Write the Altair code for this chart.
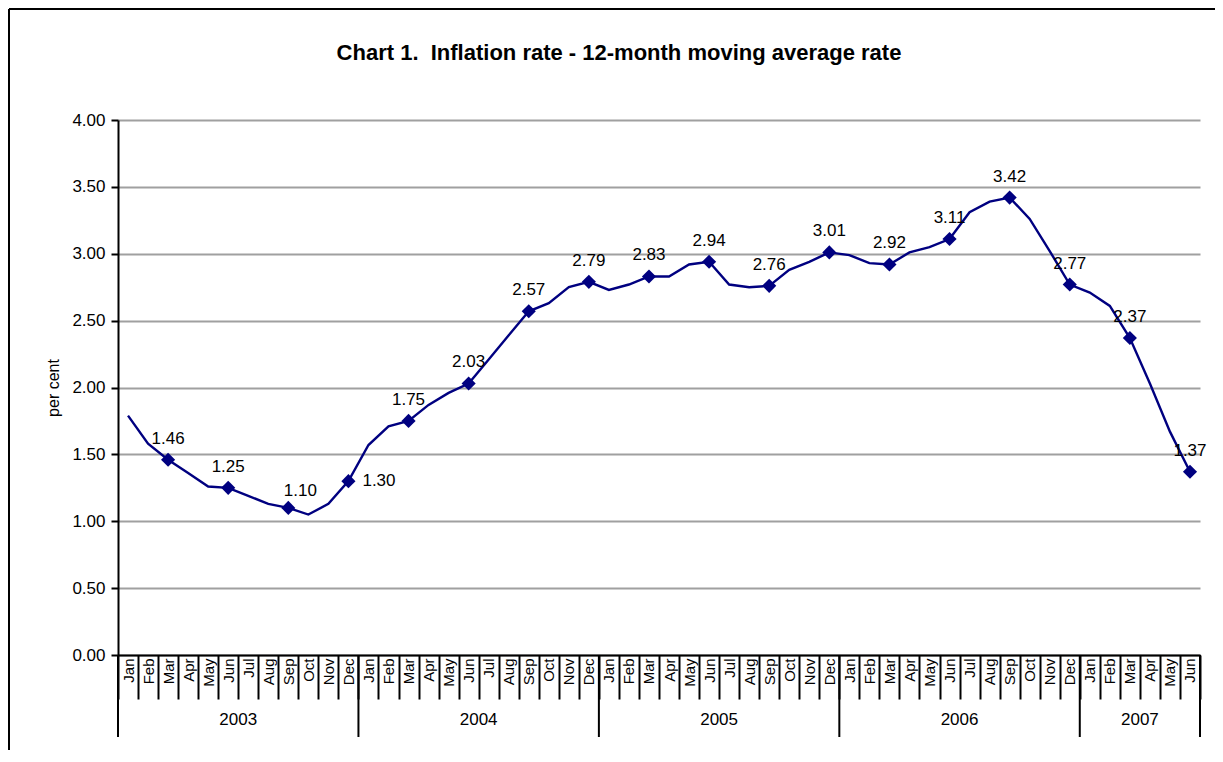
import altair as alt
import pandas as pd

months = ["Jan", "Feb", "Mar", "Apr", "May", "Jun", "Jul", "Aug", "Sep", "Oct", "Nov", "Dec"]
years = [2003, 2004, 2005, 2006, 2007]
months_per_year = [12, 12, 12, 12, 6]

rate_2003 = [1.79, 1.58, 1.46, 1.36, 1.26, 1.25, 1.19, 1.13, 1.10, 1.05, 1.13, 1.30]
rate_2004 = [1.57, 1.71, 1.75, 1.87, 1.96, 2.03, 2.21, 2.39, 2.57, 2.63, 2.75, 2.79]
rate_2005 = [2.73, 2.77, 2.83, 2.83, 2.92, 2.94, 2.77, 2.75, 2.76, 2.88, 2.94, 3.01]
rate_2006 = [2.99, 2.93, 2.92, 3.01, 3.05, 3.11, 3.31, 3.39, 3.42, 3.26, 3.02, 2.77]
rate_2007 = [2.71, 2.61, 2.37, 2.03, 1.67, 1.37]

marked_months = ["Mar", "Jun", "Sep", "Dec"]
right_label_keys = ["2003-Dec"]
shifted_label_keys = ["2003-Sep"]
y_ticks = [0, 0.5, 1.0, 1.5, 2.0, 2.5, 3.0, 3.5, 4.0]

title_text = "Chart 1.\u00a0 Inflation rate - 12-month moving average rate"
y_title = "per cent"

# ---- build tables ----
rows = []
for yr, n, vals in zip(years, months_per_year, [rate_2003, rate_2004, rate_2005, rate_2006, rate_2007]):
    for i in range(n):
        rows.append({"key": f"{yr}-{months[i]}", "year": str(yr), "month": months[i], "value": vals[i]})
df = pd.DataFrame(rows)
keys = list(df["key"])

year_rows = []
sep_rows = []
for yr, n in zip(years, months_per_year):
    year_rows.append({"key": f"{yr}-{months[n // 2]}", "year": str(yr)})
    sep_rows.append({"key": f"{yr}-Jan"})
sep_end = pd.DataFrame([{"key": keys[-1]}])
years_df = pd.DataFrame(year_rows)
seps_df = pd.DataFrame(sep_rows)

FONT = "Liberation Sans"
W, H = 1082, 535
NAVY = "#000080"

xscale = alt.Scale(domain=keys, type="band", paddingInner=0, paddingOuter=0)
yscale = alt.Scale(domain=[0, 4], nice=False)

base = alt.Chart(df)

line = base.mark_line(color=NAVY, strokeWidth=2.4).encode(
    x=alt.X(
        "key:N",
        scale=xscale,
        bandPosition=0.5,
        title=None,
        axis=alt.Axis(
            labelExpr="split(datum.value, '-')[1]",
            labelAngle=-90,
            labelAlign="right",
            labelBaseline="middle",
            labelFontSize=15,
            labelColor="black",
            labelFont=FONT,
            tickBand="extent",
            tickSize=44,
            tickWidth=2,
            tickColor="black",
            labelPadding=-41,
            domainColor="black",
            domainWidth=2,
            grid=False,
            labelOverlap=False,
        ),
    ),
    y=alt.Y(
        "value:Q",
        scale=yscale,
        axis=alt.Axis(
            values=y_ticks,
            format=".2f",
            title=y_title,
            titleFontSize=16,
            titleFontWeight="normal",
            titleFont=FONT,
            titleColor="black",
            titlePadding=10,
            labelFontSize=17,
            labelFont=FONT,
            labelColor="black",
            labelPadding=6,
            tickSize=7,
            tickWidth=2,
            tickColor="black",
            domainColor="black",
            domainWidth=2,
            grid=True,
            gridColor="#a0a0a0",
            gridWidth=2,
        ),
    ),
)

marked = base.transform_filter(
    alt.FieldOneOfPredicate(field="month", oneOf=marked_months)
)

points = marked.mark_point(
    shape="diamond", filled=True, color=NAVY, size=200, opacity=1
).encode(
    x=alt.X("key:N", scale=xscale, bandPosition=0.5),
    y=alt.Y("value:Q", scale=yscale),
)

text_enc = dict(
    x=alt.X("key:N", scale=xscale, bandPosition=0.5),
    y=alt.Y("value:Q", scale=yscale),
    text=alt.Text("value:Q", format=".2f"),
)

labels_above = marked.transform_filter(
    ~alt.FieldOneOfPredicate(field="key", oneOf=right_label_keys + shifted_label_keys)
).mark_text(
    fontSize=17, font=FONT, color="black", baseline="middle", align="center", dy=-21
).encode(**text_enc)

labels_shifted = marked.transform_filter(
    alt.FieldOneOfPredicate(field="key", oneOf=shifted_label_keys)
).mark_text(
    fontSize=17, font=FONT, color="black", baseline="middle", align="center", dy=-17, dx=12
).encode(**text_enc)

label_right = marked.transform_filter(
    alt.FieldOneOfPredicate(field="key", oneOf=right_label_keys)
).mark_text(
    fontSize=17, font=FONT, color="black", baseline="middle", align="left", dx=14
).encode(**text_enc)

year_labels = alt.Chart(years_df).mark_text(
    fontSize=17, font=FONT, color="black", baseline="middle", align="center"
).encode(
    x=alt.X("key:N", scale=xscale, bandPosition=0),
    y=alt.value(H + 65),
    text="year:N",
)

year_seps = alt.Chart(seps_df).mark_rule(color="black", strokeWidth=2).encode(
    x=alt.X("key:N", scale=xscale, bandPosition=0),
    y=alt.value(H),
    y2=alt.value(H + 82),
)

end_sep = alt.Chart(sep_end).mark_rule(color="black", strokeWidth=2).encode(
    x=alt.X("key:N", scale=xscale, bandPosition=1),
    y=alt.value(H),
    y2=alt.value(H + 82),
)

one = alt.Chart(pd.DataFrame({"a": [0]}))
border_left = one.mark_rule(color="black", strokeWidth=2).encode(
    x=alt.value(-109), y=alt.value(-111), y2=alt.value(H + 120)
)
border_top = one.mark_rule(color="black", strokeWidth=2).encode(
    x=alt.value(-109), x2=alt.value(W + 20), y=alt.value(-111)
)

title_mark = one.mark_text(
    fontSize=22, font=FONT, fontWeight="bold", color="black", align="center", baseline="alphabetic"
).encode(
    x=alt.value(501), y=alt.value(-60), text=alt.value(title_text)
)

chart = alt.layer(
    line, points, labels_above, labels_shifted, label_right, year_labels, year_seps, end_sep,
    border_left, border_top, title_mark,
).properties(
    width=W,
    height=H,
    autosize=alt.AutoSizeParams(type="none"),
    padding={"left": 110, "top": 112, "right": 15, "bottom": 95},
).configure(
    font=FONT, background="white"
).configure_view(
    stroke=None
)

chart.save("out.html", embed_options={"renderer": "svg", "actions": False})
